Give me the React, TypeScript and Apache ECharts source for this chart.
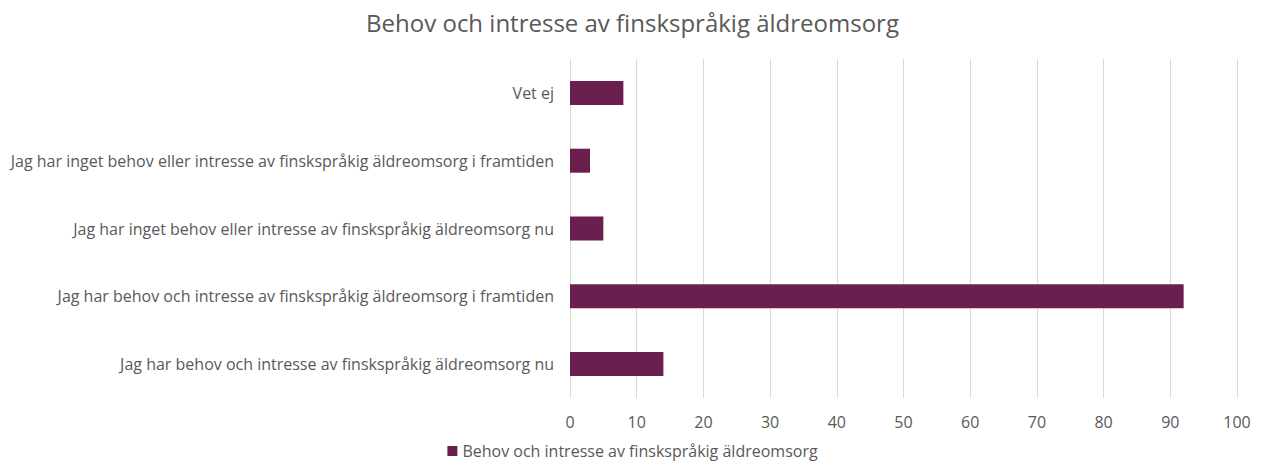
import React, { useEffect, useRef } from "react";
import * as echarts from "echarts";

const categories = [
  "Jag har behov och intresse av finskspråkig äldreomsorg nu",
  "Jag har behov och intresse av finskspråkig äldreomsorg i framtiden",
  "Jag har inget behov eller intresse av finskspråkig äldreomsorg nu",
  "Jag har inget behov eller intresse av finskspråkig äldreomsorg i framtiden",
  "Vet ej",
];
const values = [14, 92, 5, 3, 8];
const seriesName = "Behov och intresse av finskspråkig äldreomsorg";
const titleText = "Behov och intresse av finskspråkig äldreomsorg";

const FONT = "'Open Sans', 'Noto Sans', sans-serif";

export default function App() {
  const ref = useRef<HTMLDivElement>(null);
  useEffect(() => {
    document.body.style.margin = "0";
    const chart = echarts.init(ref.current!, null, { renderer: "svg" });
    chart.setOption({
      animation: false,
      backgroundColor: "#ffffff",
      title: {
        text: titleText,
        left: "center",
        top: 5,
        textStyle: { fontFamily: FONT, fontSize: 24, fontWeight: "normal", color: "#595959" },
      },
      legend: {
        bottom: 0,
        left: "center",
        itemWidth: 10,
        itemHeight: 10,
        itemGap: 5,
        icon: "rect",
        textStyle: { fontFamily: FONT, fontSize: 16, color: "#595959" },
        data: [seriesName],
      },
      grid: { left: 570, right: 28, top: 59, bottom: 66, containLabel: false },
      xAxis: {
        type: "value",
        min: 0,
        max: 100,
        interval: 10,
        axisLine: { show: false },
        axisTick: { show: false },
        axisLabel: { fontFamily: FONT, fontSize: 16, color: "#595959", margin: 16 },
        splitLine: { show: true, lineStyle: { color: "#d9d9d9", width: 1 } },
      },
      yAxis: {
        type: "category",
        data: categories,
        axisLine: { show: false },
        axisTick: { show: false },
        axisLabel: { fontFamily: FONT, fontSize: 16, color: "#595959", margin: 16 },
      },
      series: [
        {
          name: seriesName,
          type: "bar",
          data: values,
          barWidth: 24,
          itemStyle: { color: "#6b1f4e" },
        },
      ],
    });
    return () => chart.dispose();
  }, []);
  return <div ref={ref} style={{ width: 1265, height: 464 }} />;
}
